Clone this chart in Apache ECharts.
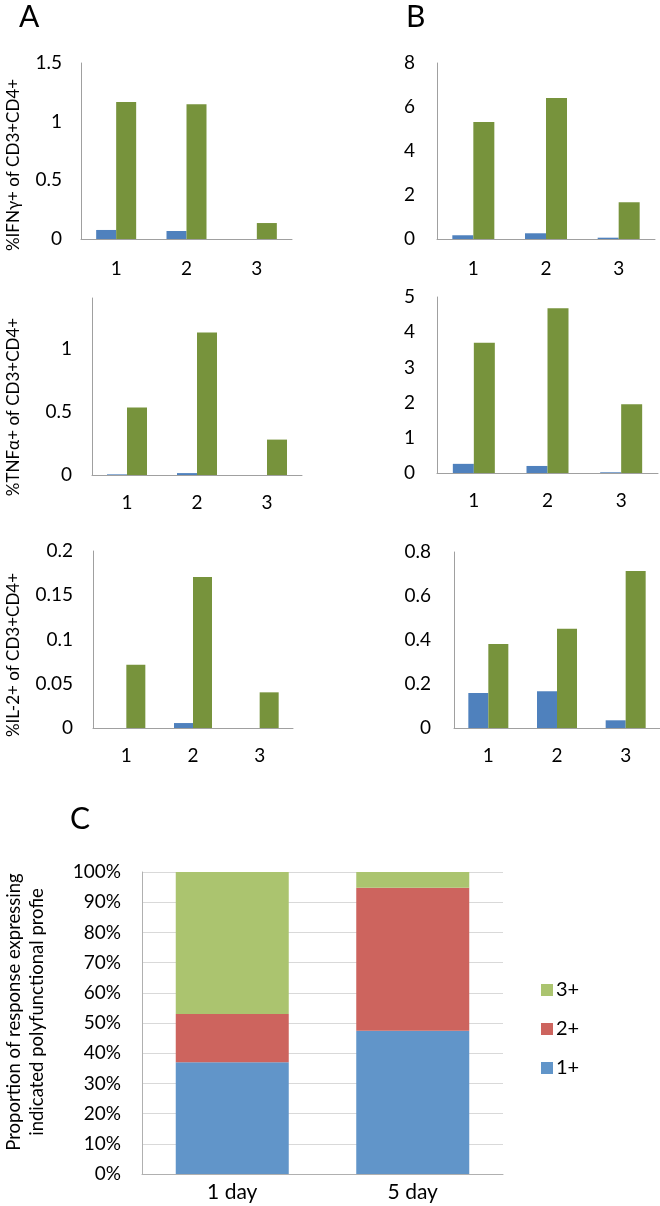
<!DOCTYPE html>
<html>
<head>
<meta charset="utf-8">
<script src="https://cdn.jsdelivr.net/npm/echarts@6/dist/echarts.min.js"></script>
<style>
html,body{margin:0;padding:0;background:#fff;}
#c{width:660px;height:1206px;}
</style>
</head>
<body>
<div id="c"></div>
<script>
// ---- data ----
const cats = ['1', '2', '3'];
const ifnA_blue = [0.077, 0.068, 0];
const ifnA_green = [1.168, 1.148, 0.136];
const ifnB_blue = [0.17, 0.26, 0.06];
const ifnB_green = [5.32, 6.41, 1.67];
const tnfA_blue = [0.005, 0.015, 0];
const tnfA_green = [0.533, 1.128, 0.28];
const tnfB_blue = [0.26, 0.20, 0.02];
const tnfB_green = [3.70, 4.68, 1.95];
const il2A_blue = [0, 0.0056, 0];
const il2A_green = [0.0715, 0.1706, 0.0403];
const il2B_blue = [0.159, 0.167, 0.035];
const il2B_green = [0.382, 0.451, 0.714];
const daysC = ['1 day', '5 day'];
const c1plus = [37, 47.4];
const c2plus = [16, 47.4];
const c3plus = [47, 5.2];
const legendC = ['3+', '2+', '1+'];

// ---- style ----
const FONT = 'Lato';
const BLUE = '#4F81BD', GREEN = '#77933C';
const AX = '#A0A0A0';

const panels = [
  {grid:{left:81, top:63, width:211, height:176}, max:1.5, interval:0.5, blue:ifnA_blue, green:ifnA_green, bw:20, xm:20, ym:19},
  {grid:{left:437, top:63, width:218, height:176}, max:8, interval:2, blue:ifnB_blue, green:ifnB_green, bw:21, xm:20, ym:22},
  {grid:{left:92, top:298, width:210, height:177}, max:1.4, interval:0.5, blue:tnfA_blue, green:tnfA_green, bw:20, xm:18, ym:20, hideMax:true},
  {grid:{left:437, top:297, width:221, height:176}, max:5, interval:1, blue:tnfB_blue, green:tnfB_green, bw:21, xm:18, ym:22},
  {grid:{left:93, top:551, width:200, height:177}, max:0.2, interval:0.05, blue:il2A_blue, green:il2A_green, bw:19, xm:18, ym:20},
  {grid:{left:454, top:552, width:206, height:176}, max:0.8, interval:0.2, blue:il2B_blue, green:il2B_green, bw:20, xm:18, ym:23}
];

const grids = [], xAxes = [], yAxes = [], series = [];
panels.forEach((p, i) => {
  grids.push(p.grid);
  xAxes.push({
    type:'category', gridIndex:i, data:cats,
    axisLine:{lineStyle:{color:AX, width:1}}, axisTick:{show:false},
    axisLabel:{color:'#000', fontFamily:FONT, fontSize:19, margin:p.xm}
  });
  yAxes.push({
    type:'value', gridIndex:i, min:0, max:p.max, interval:p.interval,
    axisLine:{show:true, lineStyle:{color:AX, width:1}}, axisTick:{show:false},
    splitLine:{show:false},
    axisLabel:{color:'#000', fontFamily:FONT, fontSize:19, margin:p.ym, showMaxLabel: p.hideMax ? false : true}
  });
  series.push({type:'bar', name:'blue'+i, xAxisIndex:i, yAxisIndex:i, data:p.blue, barWidth:p.bw, barGap:'0%', itemStyle:{color:BLUE}, silent:true});
  series.push({type:'bar', name:'green'+i, xAxisIndex:i, yAxisIndex:i, data:p.green, barWidth:p.bw, barGap:'0%', itemStyle:{color:GREEN}, silent:true});
});

// Panel C
const ci = panels.length;
grids.push({left:142, top:872, width:361, height:302});
xAxes.push({
  type:'category', gridIndex:ci, data:daysC,
  axisLine:{lineStyle:{color:'#B0B0B0'}}, axisTick:{show:false},
  axisLabel:{color:'#000', fontFamily:FONT, fontSize:21, margin:8}
});
yAxes.push({
  type:'value', gridIndex:ci, min:0, max:100, interval:10,
  axisLine:{show:true, lineStyle:{color:'#B0B0B0'}}, axisTick:{show:false},
  splitLine:{show:true, lineStyle:{color:'#D9D9D9'}},
  axisLabel:{color:'#000', fontFamily:FONT, fontSize:19, margin:21, formatter:'{value}%'}
});
const cColors = {'1+':'#6195C9', '2+':'#CD645E', '3+':'#ABC46F'};
series.push({type:'bar', name:'1+', stack:'c', xAxisIndex:ci, yAxisIndex:ci, data:c1plus, barWidth:113, itemStyle:{color:cColors['1+']}, silent:true});
series.push({type:'bar', name:'2+', stack:'c', xAxisIndex:ci, yAxisIndex:ci, data:c2plus, barWidth:113, itemStyle:{color:cColors['2+']}, silent:true});
series.push({type:'bar', name:'3+', stack:'c', xAxisIndex:ci, yAxisIndex:ci, data:c3plus, barWidth:113, itemStyle:{color:cColors['3+']}, silent:true});

function vtext(x, y, text, size) {
  return {type:'text', x:x, y:y, rotation:Math.PI/2, silent:true,
    style:{text:text, fill:'#000', font: size + 'px ' + FONT, align:'center', verticalAlign:'middle'}};
}
function letter(x, y, t) {
  return {type:'text', x:x, y:y, silent:true, style:{text:t, fill:'#000', font:'30px ' + FONT, align:'left', verticalAlign:'top'}};
}

const chart = echarts.init(document.getElementById('c'), null, {renderer:'canvas'});
chart.setOption({
  animation:false,
  backgroundColor:'#fff',
  grid:grids, xAxis:xAxes, yAxis:yAxes, series:series,
  legend:{
    data:legendC, orient:'vertical', left:536, top:975, itemWidth:12, itemHeight:12, itemGap:19,
    icon:'rect', selectedMode:false,
    textStyle:{color:'#000', fontFamily:FONT, fontSize:20, padding:[0,0,0,-2]}
  },
  graphic:[
    letter(19, 2, 'A'), letter(406, 2, 'B'), letter(70, 804, 'C'),
    vtext(14, 165, '%IFNγ+ of CD3+CD4+', 17),
    vtext(14, 407, '%TNFα+ of CD3+CD4+', 17),
    vtext(14, 655, '%IL-2+ of CD3+CD4+', 17),
    vtext(14, 1012, 'Proportion of response expressing', 18.5),
    vtext(37, 1012, 'indicated polyfunctional profie', 18.5)
  ]
});
</script>
</body>
</html>
